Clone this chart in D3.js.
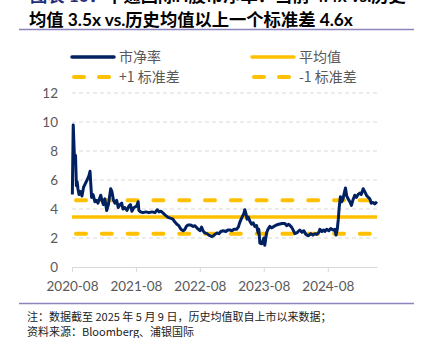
<!DOCTYPE html>
<html><head><meta charset="utf-8">
<script src="https://cdn.jsdelivr.net/npm/d3@7"></script>
<style>
html,body{margin:0;padding:0;background:#fff;overflow:hidden}
svg{display:block}
</style></head>
<body>
<svg id="c" width="423" height="338"></svg>
<script>
// ---- data ----
const dates = ["2020-08-03","2020-08-08","2020-08-15","2020-08-21","2020-08-26","2020-08-30","2020-09-04","2020-09-10","2020-09-19","2020-09-27",
"2020-10-06","2020-10-14","2020-10-26","2020-11-06","2020-11-12","2020-11-17","2020-11-21","2020-11-29","2020-12-10","2020-12-19",
"2020-12-27","2021-01-05","2021-01-12","2021-01-19","2021-01-27","2021-02-05","2021-02-15","2021-02-25","2021-03-10","2021-03-17",
"2021-03-26","2021-04-03","2021-04-13","2021-04-22","2021-05-02","2021-05-12","2021-05-19","2021-05-30","2021-06-11","2021-06-22",
"2021-07-01","2021-07-09","2021-07-21","2021-08-05","2021-08-14","2021-08-18","2021-08-27","2021-09-10","2021-09-27","2021-10-14",
"2021-11-01","2021-11-18","2021-12-01","2021-12-11","2021-12-22","2022-01-05","2022-01-23","2022-02-05","2022-02-17","2022-02-28",
"2022-03-12","2022-03-23","2022-04-03","2022-04-15","2022-04-28","2022-05-08","2022-05-16","2022-05-26","2022-06-08","2022-06-24",
"2022-07-04","2022-07-15","2022-07-24","2022-08-02","2022-08-11","2022-08-19","2022-08-30","2022-09-11","2022-09-22","2022-10-07",
"2022-10-18","2022-10-26","2022-11-07","2022-11-18","2022-11-29","2022-12-12","2022-12-28","2023-01-08","2023-01-20","2023-01-31",
"2023-02-12","2023-02-27","2023-03-09","2023-03-18","2023-03-29","2023-04-10","2023-04-15","2023-04-21","2023-04-28","2023-05-05",
"2023-05-14","2023-05-24","2023-06-02","2023-06-11","2023-06-21","2023-06-30","2023-07-04","2023-07-10","2023-07-21","2023-08-02",
"2023-08-07","2023-08-17","2023-08-25","2023-09-05","2023-09-16","2023-09-28","2023-10-13","2023-10-26","2023-11-13","2023-11-30",
"2023-12-11","2023-12-22","2024-01-07","2024-01-14","2024-01-26","2024-02-06","2024-02-23","2024-03-06","2024-03-17","2024-03-29",
"2024-04-11","2024-04-26","2024-05-08","2024-05-19","2024-05-30","2024-06-11","2024-06-17","2024-06-28","2024-07-09","2024-07-15",
"2024-07-26","2024-08-07","2024-08-18","2024-08-31","2024-09-10","2024-09-17","2024-09-24","2024-09-30","2024-10-05","2024-10-12",
"2024-10-20","2024-10-27","2024-11-03","2024-11-10","2024-11-17","2024-11-25","2024-12-05","2024-12-14","2024-12-22","2025-01-02",
"2025-01-11","2025-01-21","2025-01-31","2025-02-08","2025-02-19","2025-02-28","2025-03-10","2025-03-17","2025-03-29","2025-04-06",
"2025-04-16","2025-04-26","2025-05-09"];
const pb = [5.0,9.8,7.5,7.7,5.6,5.9,5.4,5.0,5.2,4.9,
5.5,5.7,6.0,6.3,6.6,5.6,4.8,5.0,4.5,4.6,
4.4,4.7,4.95,4.6,4.3,4.7,3.9,4.3,5.4,5.2,
4.6,4.4,4.6,4.1,4.3,4.4,4.0,4.1,3.9,4.2,
4.3,3.85,4.1,4.2,4.5,3.9,3.8,3.75,3.8,3.75,
3.8,3.75,3.95,3.8,3.85,3.7,3.5,3.4,3.35,3.3,
3.1,2.95,2.85,2.6,2.5,2.6,2.8,2.9,2.9,2.8,
2.85,2.7,2.6,2.5,2.75,2.5,2.35,2.3,2.2,2.1,
2.15,2.25,2.35,2.3,2.45,2.5,2.45,2.55,2.55,2.5,
2.6,2.6,2.75,3.1,3.4,3.7,3.95,3.7,3.3,3.45,
3.15,2.95,3.05,2.8,2.85,2.35,2.6,1.65,1.6,2.0,
1.5,2.35,2.6,2.8,2.7,2.8,2.9,2.95,3.0,3.0,
2.85,2.95,2.75,2.6,2.3,2.35,2.55,2.4,2.5,2.25,
2.15,2.3,2.2,2.3,2.25,2.4,2.6,2.45,2.55,2.45,
2.6,2.5,2.65,2.55,2.6,2.2,2.6,3.3,4.1,4.85,
4.5,4.7,5.1,5.45,4.9,4.7,4.5,4.25,4.6,4.95,
4.8,5.0,5.1,5.0,5.4,5.2,4.95,4.85,4.7,4.4,
4.45,4.35,4.5];
const meanVal = 3.45;
const plus1 = 4.6;
const minus1 = 2.3;
const yTicks = [0,2,4,6,8,10,12];
const xTickLabels = ["2020-08","2021-08","2022-08","2023-08","2024-08"];
const legendLabels = ["市净率","平均值","+1 标准差","-1 标准差"];
const titleLine1a = "图表 10：";
const titleLine1b = "中通国际H股市净率：当前 4.4x vs.历史";
const titleLine2 = "均值 3.5x vs.历史均值以上一个标准差 4.6x";
const note1 = "注：数据截至 2025 年 5 月 9 日，历史均值取自上市以来数据；";
const note2 = "资料来源：Bloomberg、浦银国际";

// ---- drawing ----
const svg = d3.select("#c");
const parse = d3.timeParse("%Y-%m-%d");
const series = dates.map((d,i)=>({d:parse(d), v:pb[i]}));
const navy = "#002060", gold = "#FFC000", grid = "#d9d9d9", txt = "#595959";
const latin = "Lato, 'Noto Sans CJK SC', sans-serif";

const x = d3.scaleTime().domain([parse("2020-08-01"), parse("2025-05-09")]).range([72, 377]);
const y = d3.scaleLinear().domain([0,12]).range([267, 93]);

// title
const t1 = svg.append("text").attr("x",30).attr("y",2)
  .attr("font-family",latin).attr("font-weight",700).attr("font-size",17.3);
t1.append("tspan").attr("fill","#1f2d7a").text(titleLine1a);
t1.append("tspan").attr("fill","#000").text(titleLine1b);
svg.append("text").attr("x",29).attr("y",26)
  .attr("font-family",latin).attr("font-weight",700).attr("font-size",17.3)
  .attr("fill","#000").text(titleLine2);
svg.append("line").attr("x1",19).attr("x2",414).attr("y1",29.5).attr("y2",29.5)
  .attr("stroke","#8b84bd").attr("stroke-width",1.5);

// gridlines
svg.append("g").selectAll("line").data(yTicks.filter(v=>v>0)).join("line")
  .attr("x1",72).attr("x2",377).attr("y1",d=>y(d)).attr("y2",d=>y(d))
  .attr("stroke",grid).attr("stroke-width",1).attr("stroke-dasharray","4 3");

// y axis labels
svg.append("g").selectAll("text").data(yTicks).join("text")
  .attr("x",58).attr("y",d=>y(d)).attr("dy","0.35em").attr("text-anchor","end")
  .attr("font-family",latin).attr("font-size",13.5).attr("fill",txt).text(d=>d);

// x axis
const xTickDates = xTickLabels.map(s=>d3.timeParse("%Y-%m")(s));
const xAxis = d3.axisBottom(x).tickValues(xTickDates).tickFormat((d,i)=>xTickLabels[i])
  .tickSizeInner(5).tickSizeOuter(0).tickPadding(9);
const gx = svg.append("g").attr("transform","translate(0,267)").call(xAxis);
gx.select(".domain").attr("stroke",grid);
gx.selectAll(".tick line").attr("stroke",grid);
gx.selectAll(".tick text").attr("font-family",latin).attr("font-size",13.5).attr("fill",txt);

// reference lines
svg.append("line").attr("x1",72).attr("x2",377).attr("y1",y(meanVal)).attr("y2",y(meanVal))
  .attr("stroke",gold).attr("stroke-width",3.5);
[plus1, minus1].forEach(v=>{
  svg.append("line").attr("x1",76).attr("x2",377).attr("y1",y(v)).attr("y2",y(v))
    .attr("stroke",gold).attr("stroke-width",4).attr("stroke-linecap","round")
    .attr("stroke-dasharray","10 15.8");
});

// PB line
svg.append("path").datum(series)
  .attr("d", d3.line().x(d=>x(d.d)).y(d=>y(d.v)))
  .attr("fill","none").attr("stroke",navy).attr("stroke-width",3).attr("stroke-linejoin","round");

// legend
const leg = [
  {x:72, y:57, c:navy, dash:false, t:legendLabels[0]},
  {x:252, y:57, c:gold, dash:false, t:legendLabels[1]},
  {x:72, y:77, c:gold, dash:true, t:legendLabels[2]},
  {x:252, y:77, c:gold, dash:true, t:legendLabels[3]}
];
leg.forEach(l=>{
  if(!l.dash){
    svg.append("line").attr("x1",l.x).attr("x2",l.x+42).attr("y1",l.y).attr("y2",l.y)
      .attr("stroke",l.c).attr("stroke-width",3.5).attr("stroke-linecap","round");
  } else {
    svg.append("line").attr("x1",l.x+2).attr("x2",l.x+38).attr("y1",l.y).attr("y2",l.y)
      .attr("stroke",l.c).attr("stroke-width",4).attr("stroke-linecap","round")
      .attr("stroke-dasharray","10 15");
  }
  svg.append("text").attr("x",l.x+47).attr("y",l.y).attr("dy","0.36em")
    .attr("font-family","'Noto Sans CJK SC', sans-serif").attr("font-size",14)
    .attr("fill",txt).text(l.t);
});

// footer
svg.append("line").attr("x1",19).attr("x2",414).attr("y1",303.5).attr("y2",303.5)
  .attr("stroke","#8b84bd").attr("stroke-width",1.5);
svg.append("text").attr("x",27).attr("y",320.5)
  .attr("font-family","'Noto Sans CJK SC', sans-serif").attr("font-size",11)
  .attr("fill","#222").text(note1);
svg.append("text").attr("x",27).attr("y",335.5)
  .attr("font-family","'Noto Sans CJK SC', sans-serif").attr("font-size",11)
  .attr("fill","#222").text(note2);
</script>
</body></html>
